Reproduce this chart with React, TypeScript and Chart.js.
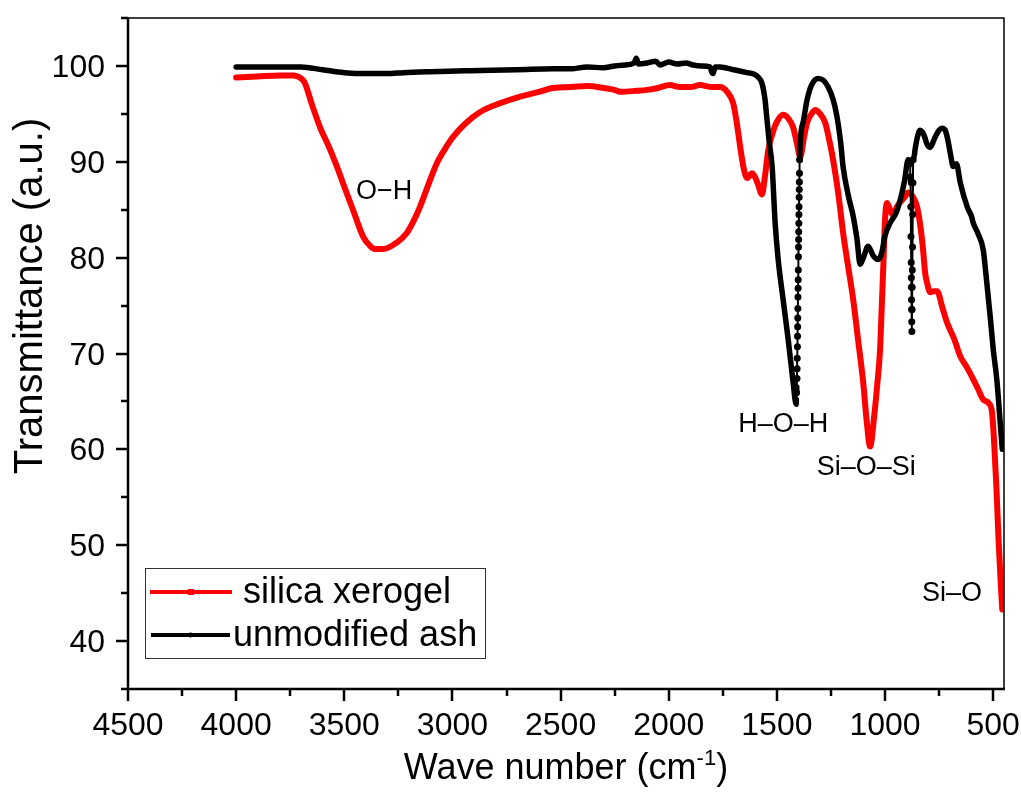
import React, { useEffect, useRef } from "react";
import { Chart, registerables } from "chart.js";

Chart.register(...registerables);

// ---------- DATA ----------
const seriesNames = ["silica xerogel", "unmodified ash"];

const xerogelWave = [
  4000, 3900, 3800, 3737, 3700, 3682, 3650, 3612, 3570, 3534, 3500, 3460, 3413, 3380, 3358, 3320,
  3256, 3210, 3180, 3150, 3110, 3071, 3030, 2997, 2940, 2872, 2780, 2687, 2600, 2534, 2450, 2378,
  2300, 2250, 2225, 2150, 2100, 2050, 1994, 1950, 1900, 1855, 1800, 1763, 1730, 1702, 1685, 1670,
  1655, 1638, 1615, 1601, 1585, 1569, 1555, 1540, 1520, 1499, 1471, 1450, 1425, 1408, 1392, 1375,
  1360, 1340, 1323, 1300, 1277, 1260, 1240, 1215, 1194, 1170, 1147, 1125, 1101, 1085, 1069, 1050,
  1035, 1023, 1015, 1008, 1000, 991, 980, 967, 940, 910, 893, 870, 852, 838, 824, 815, 806, 791,
  775, 759, 735, 713, 680, 652, 620, 592, 570, 546, 520, 505, 495, 485, 475, 465, 458,
];
const xerogelT = [
  98.8, 98.9, 99.0, 99.0, 98.7, 98.2, 96.0, 93.6, 91.5, 89.5, 87.4, 85.0, 82.2, 81.2, 80.9, 80.9,
  81.6, 82.6, 83.8, 85.3, 87.7, 89.9, 91.5, 92.6, 94.0, 95.2, 96.1, 96.8, 97.3, 97.7, 97.8, 97.9,
  97.7, 97.5, 97.3, 97.4, 97.5, 97.7, 98.0, 97.8, 97.8, 98.0, 97.8, 97.8, 97.3, 96.1, 94.0, 91.6,
  89.5, 88.3, 88.8, 88.4, 87.5, 86.6, 88.5, 91.2, 93.0, 94.2, 94.9, 94.6, 93.6, 92.0, 90.5, 92.5,
  94.1, 95.0, 95.4, 95.0, 94.1, 92.5, 90.2, 86.5, 82.6, 79.0, 75.6, 71.5, 67.0, 63.0, 60.3, 63.5,
  67.0, 70.4, 75.0, 79.1, 84.0, 85.7, 85.2, 84.5, 85.5, 86.3, 86.8, 86.3, 85.3, 83.5, 80.8, 78.5, 77.4, 76.4,
  76.5, 76.5, 74.8, 73.2, 71.5, 69.7, 68.5, 67.3, 66.3, 65.2, 64.8, 63.8, 60.5, 56.0, 50.5, 46.0, 43.3,
];

const ashWave = [
  4000, 3900, 3800, 3700, 3600, 3500, 3400, 3300, 3228, 3100, 2918, 2700, 2534, 2450, 2378, 2303,
  2250, 2200, 2160, 2150, 2140, 2100, 2060, 2040, 2000, 1960, 1920, 1887, 1850, 1810, 1800, 1795,
  1785, 1763, 1700, 1638, 1601, 1585, 1569, 1555, 1547, 1535, 1522, 1508, 1494, 1471, 1448, 1425,
  1411, 1410, 1409, 1408, 1407, 1406.5, 1406, 1405, 1404.5, 1404, 1403.5, 1403, 1402.5, 1402, 1401.5,
  1401, 1400.5, 1400, 1399.5, 1399, 1398.5, 1398, 1397.5, 1397, 1396.5, 1396, 1395.5, 1395,
  1380, 1360, 1340, 1309, 1285, 1263, 1240, 1222, 1205, 1194, 1170,
  1147, 1130, 1115, 1100, 1078, 1055, 1032, 1015, 1000, 977, 950, 930, 910, 893, 886,
  884, 883, 882, 881, 880, 879, 878.5, 878, 877.5, 877, 876.5, 876,
  875, 874.5, 874, 873, 872, 871, 870,
  866, 861, 850, 838, 820, 805, 791, 770, 750, 736, 720, 708, 695, 685, 670, 652, 620, 600,
  592, 570, 546, 530, 514, 500, 482, 470, 458,
];
const ashT = [
  99.9, 99.9, 99.9, 99.9, 99.6, 99.3, 99.2, 99.2, 99.3, 99.4, 99.5, 99.6, 99.7, 99.7, 99.9, 99.8,
  100.0, 100.1, 100.3, 100.8, 100.2, 100.3, 100.5, 100.1, 100.4, 100.2, 100.3, 100.1, 100.0, 99.9, 99.3, 99.2,
  99.9, 99.9, 99.6, 99.3, 99.1, 98.8, 98.2, 96.5, 94.7, 92.0, 89.5, 83.6, 79.8, 75.6, 71.5, 67.0,
  64.7, 65.2, 65.9, 66.5, 67.4, 68.4, 69.5, 70.7, 71.8, 72.8, 73.7, 74.7, 75.9, 76.8, 77.7,
  78.7, 80.1, 81.1, 81.9, 82.7, 83.6, 84.5, 85.3, 86.3, 87.1, 87.9, 88.8, 90.2,
  94.0, 96.5, 98.0, 98.7, 98.5, 97.8, 96.5, 94.7, 92.0, 89.5, 86.5,
  84.3, 82.0, 79.3, 80.0, 81.2, 80.2, 79.8, 80.5, 82.3, 83.6, 84.6, 86.0, 88.0, 90.2, 90.1,
  89.7, 88.4, 87.8, 85.3, 82.2, 79.5, 77.9, 76.9, 75.6, 74.6, 73.3, 72.3,
  74.6, 76.9, 78.7, 81.1, 84.5, 87.8, 90.2,
  90.5, 91.3, 92.6, 93.3, 92.8, 91.8, 91.5, 92.5, 93.3, 93.5, 93.2, 92.1, 90.5, 89.5, 89.8, 87.8, 85.3, 84.3,
  83.6, 82.5, 80.8, 77.5, 73.9, 70.5, 67.0, 63.5, 60.0,
];

const xMajorTicks = [4500, 4000, 3500, 3000, 2500, 2000, 1500, 1000, 500];
const xMinorTicks = [4250, 3750, 3250, 2750, 2250, 1750, 1250, 750];
const yMajorTicks = [40, 50, 60, 70, 80, 90, 100];
const yMinorTicks = [35, 45, 55, 65, 75, 85, 95, 105];

const bandLabels = ["O\u2212H", "H\u2013O\u2013H", "Si\u2013O\u2013Si", "Si\u2013O"];
const bandLabelWave = [3316, 1471, 1087, 690];
const bandLabelT = [86.9, 62.6, 58.1, 45.0];

const xTitle = "Wave number (cm";
const xTitleSup = "-1";
const yTitle = "Transmittance (a.u.)";

const FONT = "'Liberation Sans', Arial, Helvetica, sans-serif";

// segments steep enough (in pixels) that the measured points show as separate dots
function steepSegment(meta: any, i: number, j: number): boolean {
  const pts = meta.data;
  const a = pts[i];
  const b = pts[j];
  if (!a || !b) return false;
  const dx = Math.abs(b.x - a.x);
  const dy = Math.abs(b.y - a.y);
  return dy > 30 * Math.max(dx, 0.01) && dy > 3;
}

const overlayPlugin = {
  id: "overlay",
  afterDatasetsDraw(chart: any) {
    const ctx = chart.ctx;
    const xs = chart.scales.x;
    const ys = chart.scales.y;
    const { left, right, top, bottom } = chart.chartArea;
    ctx.save();
    ctx.strokeStyle = "#000";
    ctx.fillStyle = "#000";
    ctx.lineCap = "butt";

    // frame top/right
    ctx.lineWidth = 1.5;
    ctx.beginPath();
    ctx.moveTo(left, top);
    ctx.lineTo(right, top);
    ctx.lineTo(right, bottom);
    ctx.stroke();

    // axes left/bottom
    ctx.lineWidth = 2.5;
    ctx.beginPath();
    ctx.moveTo(left, top - 1);
    ctx.lineTo(left, bottom + 1);
    ctx.moveTo(left - 1, bottom);
    ctx.lineTo(right + 1, bottom);
    ctx.stroke();

    // ticks
    ctx.beginPath();
    xMajorTicks.forEach((v) => {
      const px = Math.round(xs.getPixelForValue(v));
      ctx.moveTo(px, bottom);
      ctx.lineTo(px, bottom + 12);
    });
    xMinorTicks.forEach((v) => {
      const px = Math.round(xs.getPixelForValue(v));
      ctx.moveTo(px, bottom);
      ctx.lineTo(px, bottom + 7);
    });
    yMajorTicks.forEach((v) => {
      const py = Math.round(ys.getPixelForValue(v));
      ctx.moveTo(left, py);
      ctx.lineTo(left - 12, py);
    });
    yMinorTicks.forEach((v) => {
      const py = Math.round(ys.getPixelForValue(v));
      ctx.moveTo(left, py);
      ctx.lineTo(left - 7, py);
    });
    ctx.stroke();

    // tick labels
    ctx.font = `32px ${FONT}`;
    ctx.textAlign = "center";
    ctx.textBaseline = "alphabetic";
    xMajorTicks.forEach((v) => {
      ctx.fillText(String(v), xs.getPixelForValue(v), bottom + 46);
    });
    ctx.textAlign = "right";
    yMajorTicks.forEach((v) => {
      ctx.fillText(String(v), left - 23, ys.getPixelForValue(v) + 11);
    });

    // x title
    const mainFont = `36px ${FONT}`;
    const supFont = `22px ${FONT}`;
    ctx.font = mainFont;
    const w1 = ctx.measureText(xTitle).width;
    const w3 = ctx.measureText(")").width;
    ctx.font = supFont;
    const w2 = ctx.measureText(xTitleSup).width;
    const total = w1 + w2 + w3;
    let tx = (left + right) / 2 - total / 2;
    const ty = 779;
    ctx.textAlign = "left";
    ctx.font = mainFont;
    ctx.fillText(xTitle, tx, ty);
    tx += w1;
    ctx.font = supFont;
    ctx.fillText(xTitleSup, tx, ty - 14);
    tx += w2;
    ctx.font = mainFont;
    ctx.fillText(")", tx, ty);

    // y title
    ctx.save();
    ctx.translate(42, 296);
    ctx.rotate(-Math.PI / 2);
    ctx.font = `40px ${FONT}`;
    ctx.textAlign = "center";
    ctx.fillText(yTitle, 0, 0);
    ctx.restore();

    // band labels
    ctx.font = `27px ${FONT}`;
    ctx.textAlign = "center";
    ctx.textBaseline = "middle";
    bandLabels.forEach((t, i) => {
      ctx.fillText(t, xs.getPixelForValue(bandLabelWave[i]), ys.getPixelForValue(bandLabelT[i]));
    });

    // legend
    const lx = 145, ly = 568, lw = 340, lh = 90;
    ctx.lineWidth = 1;
    ctx.strokeStyle = "#333";
    ctx.strokeRect(lx + 0.5, ly + 0.5, lw, lh);
    const rows = [
      { y: 592, color: "#ff0000", x0: 150, x1: 232, tx: 243, marker: "square" },
      { y: 635, color: "#000000", x0: 151, x1: 230, tx: 233, marker: "dot" },
    ];
    ctx.font = `36px ${FONT}`;
    ctx.textAlign = "left";
    ctx.textBaseline = "middle";
    rows.forEach((r, i) => {
      ctx.strokeStyle = r.color;
      ctx.fillStyle = r.color;
      ctx.lineWidth = 4;
      ctx.beginPath();
      ctx.moveTo(r.x0, r.y);
      ctx.lineTo(r.x1, r.y);
      ctx.stroke();
      const mx = (r.x0 + r.x1) / 2;
      if (r.marker === "square") {
        ctx.fillRect(mx - 3, r.y - 3, 6, 6);
      } else {
        ctx.beginPath();
        ctx.arc(mx, r.y, 2.5, 0, Math.PI * 2);
        ctx.fill();
      }
      ctx.fillStyle = "#000";
      ctx.fillText(seriesNames[i], r.tx, r.y + 1);
    });

    ctx.restore();
  },
};

export default function App() {
  const canvasRef = useRef<HTMLCanvasElement | null>(null);

  useEffect(() => {
    const canvas = canvasRef.current;
    if (!canvas) return;
    const chart = new Chart(canvas, {
      type: "scatter",
      data: {
        datasets: [
          {
            label: seriesNames[0],
            data: xerogelWave.map((x, i) => ({ x, y: xerogelT[i] })),
            borderColor: "#ff0000",
            backgroundColor: "#ff0000",
            borderWidth: 6,
            pointRadius: 0,
            showLine: true,
            cubicInterpolationMode: "monotone",
            order: 2,
          },
          {
            label: seriesNames[1],
            data: ashWave.map((x, i) => ({ x, y: ashT[i] })),
            borderColor: "#000000",
            backgroundColor: "#000000",
            borderWidth: 5.5,
            showLine: true,
            cubicInterpolationMode: "monotone",
            order: 1,
            pointStyle: "circle",
            pointBorderWidth: 0,
            pointRadius: (c: any) => {
              const meta = c.chart.getDatasetMeta(c.datasetIndex);
              const i = c.dataIndex;
              return steepSegment(meta, i - 1, i) || steepSegment(meta, i, i + 1) ? 3.5 : 0;
            },
            segment: {
              borderWidth: (s: any) => {
                const meta = s.chart.getDatasetMeta(1);
                return steepSegment(meta, s.p0DataIndex, s.p1DataIndex) ? 2 : 5.5;
              },
            },
          },
        ],
      },
      options: {
        responsive: false,
        animation: false,
        devicePixelRatio: 1,
        layout: { padding: { left: 128, top: 18, right: 17, bottom: 107 } },
        elements: {
          line: { borderJoinStyle: "round", borderCapStyle: "round", tension: 0 },
        },
        scales: {
          x: { type: "linear", min: 450, max: 4500, reverse: true, display: false },
          y: { type: "linear", min: 35, max: 105, display: false },
        },
        plugins: {
          legend: { display: false },
          tooltip: { enabled: false },
        },
      },
      plugins: [overlayPlugin],
    } as any);
    return () => chart.destroy();
  }, []);

  return (
    <div style={{ position: "absolute", left: 0, top: 0, width: 1021, height: 796, background: "#fff" }}>
      <canvas ref={canvasRef} width={1021} height={796} style={{ display: "block", width: 1021, height: 796 }} />
    </div>
  );
}
